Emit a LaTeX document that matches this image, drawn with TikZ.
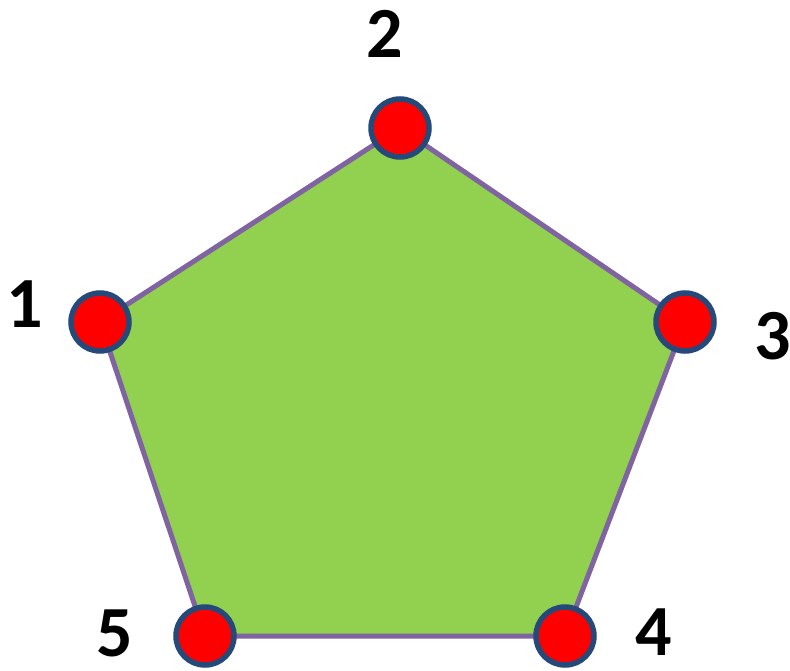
\documentclass[tikz,border=0pt]{standalone}
\usepackage{fontspec}
\setmainfont{Carlito}
\definecolor{pgreen}{HTML}{92D050}
\definecolor{pedge}{HTML}{8064A2}
\definecolor{vblue}{HTML}{254A7A}
\definecolor{vred}{HTML}{FF0000}
\begin{document}
\begin{tikzpicture}[x=1pt,y=-1pt,
  vert/.style={circle,draw=vblue,fill=vred,line width=5.5pt,minimum size=58pt,inner sep=0pt},
  lab/.style={font=\fontsize{72}{72}\selectfont\bfseries,inner sep=0pt,anchor=center}]
\useasboundingbox (0,0) rectangle (790,671);
\coordinate (p1) at (100,322);
\coordinate (p2) at (400,128);
\coordinate (p3) at (685,322);
\coordinate (p4) at (565,636);
\coordinate (p5) at (205,636);
\draw[fill=pgreen,draw=pedge,line width=5pt,line join=miter] (p1) -- (p2) -- (p3) -- (p4) -- (p5) -- cycle;
\node[vert] (v1) at (p1) {};
\node[vert] (v2) at (p2) {};
\node[vert] (v3) at (p3) {};
\node[vert] (v4) at (p4) {};
\node[vert] (v5) at (p5) {};
\node[lab] (l2) at (385,34) {2};
\node[lab] (l1) at (25,304) {1};
\node[lab] (l3) at (773,336) {3};
\node[lab] (l4) at (654,632) {4};
\node[lab] (l5) at (115,633) {5};
\end{tikzpicture}
\end{document}
